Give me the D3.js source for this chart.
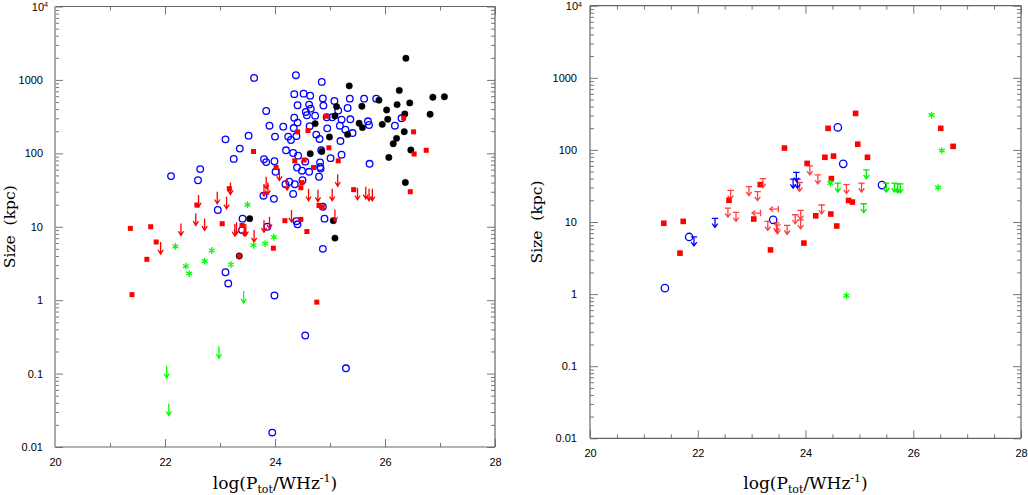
<!DOCTYPE html>
<html><head><meta charset="utf-8">
<script src="https://cdn.jsdelivr.net/npm/d3@7"></script>
<style>body{margin:0;background:#fff}svg{display:block}</style>
</head><body>
<svg id="c" width="1028" height="495"></svg>
<script>
// ---- tick labels ----
const xMajor = [20, 22, 24, 26, 28];
const yMajor = [0.01, 0.1, 1, 10, 100, 1000, 10000];
const yLabels = ["0.01", "0.1", "1", "10", "100", "1000", "10"];

// ---- left panel data: [log P_tot, size kpc] ----
const leftBlue = [[24.38,1160],[23.62,1065],[24.85,940],[24.35,640],[24.52,650],[24.64,610],[24.87,560],[25.08,517],[25.36,556],[25.62,556],[25.84,556],[24.41,452],[24.62,461],[24.88,447],[24.65,406],[25.32,415],[25.15,382],[23.84,378],[24.56,366],[24.58,330],[24.73,326],[25.04,310],[24.94,310],[24.35,306],[25.21,288],[25.37,291],[26.30,300],[24.41,262],[25.69,273],[25.71,243],[26.18,238],[25.18,238],[23.90,238],[24.15,231],[24.63,234],[24.34,221],[24.95,219],[25.28,210],[25.41,189],[24.75,180],[23.52,174],[24.39,172],[24.00,169],[24.24,169],[24.81,157],[24.29,152],[23.10,155],[25.19,147],[23.36,116],[24.20,110],[24.84,110],[24.33,101],[24.42,93],[25.21,96],[25.01,86],[23.25,84],[23.80,83],[23.84,76],[23.99,78],[24.55,77],[24.82,75],[25.72,72],[24.82,65],[24.40,64],[24.83,62],[22.64,61],[22.11,49],[24.49,58],[24.62,56],[24.01,56],[24.80,48],[22.60,43],[24.50,43],[24.26,41],[24.19,38],[24.36,38],[24.33,28],[23.79,26.5],[23.98,24],[22.96,16.9],[24.87,18.7],[23.41,12.9],[24.90,12.9],[24.39,11.9],[24.41,10.8],[23.86,10],[23.40,9],[24.87,5.0],[23.10,2.4],[23.15,1.69],[23.99,1.16],[24.55,0.33],[25.29,0.118],[23.95,0.0157]];
const leftBlack = [[26.38,1970],[25.35,830],[26.26,720],[26.87,580],[27.08,590],[25.89,530],[26.45,486],[26.22,461],[25.58,437],[25.12,433],[26.03,390],[26.36,344],[26.82,340],[25.09,323],[26.05,291],[24.73,254],[25.53,257],[25.95,248],[25.59,224],[26.35,197],[25.32,181],[24.99,167],[26.21,160],[26.15,135],[24.85,106],[24.64,99],[26.47,111],[26.07,88],[26.37,40],[23.54,12.9],[25.06,12.1],[25.09,7.0],[23.35,4.0]];
const leftRed = [[24.93,320],[26.34,303],[24.60,204],[24.41,196],[26.52,196],[24.98,119],[23.61,106],[26.75,110],[26.53,98],[24.36,79],[24.53,81],[25.15,79],[24.02,64],[24.70,64],[24.49,40],[24.47,34],[23.17,33],[25.43,32],[26.46,30],[22.58,19.7],[24.80,19.5],[24.86,18.5],[24.18,12.1],[24.47,12.6],[23.04,11],[21.37,9.5],[21.74,10],[23.40,10.4],[24.58,8.6],[21.84,6.2],[23.97,5.1],[21.67,3.6],[23.35,4.0],[21.40,1.19],[24.76,0.94]];
const leftRedLimits = [[21.92,6.2],[22.29,11.1],[22.56,15.2],[22.61,27],[22.72,13],[22.95,30],[23.12,25.6],[23.19,40],[23.27,10.9],[23.30,11.5],[23.44,10.9],[23.47,11],[23.62,9],[23.80,12.3],[23.90,13.7],[23.80,38],[23.84,48],[23.87,40],[24.08,62],[24.22,46],[24.61,33],[24.78,32],[25.04,33],[25.14,52],[25.50,34],[25.65,35],[25.71,33],[25.77,33],[24.30,16.9],[25.09,17.2]];
const leftGreen = [[23.50,20],[22.19,5.4],[22.85,4.75],[22.38,2.9],[22.44,2.3],[22.72,3.4],[23.20,3.06],[23.61,5.6],[23.82,5.9],[23.98,7.2]];
const leftGreenLimits = [[23.43,1.33],[22.98,0.236],[22.03,0.127],[22.07,0.039]];

// ---- right panel data ----
const rightRed = [[24.93,321],[24.42,199],[26.51,199],[23.61,106],[26.74,112],[24.97,120],[24.36,79],[24.52,82],[25.15,79],[24.03,65],[24.48,40],[23.16,33],[22.58,20],[24.80,19.9],[24.87,18.9],[24.47,12.9],[24.19,12.2],[23.04,11],[21.37,9.6],[21.73,10.2],[24.58,8.8],[23.97,5.1],[23.35,4.1],[21.67,3.7]];
const rightBlue = [[24.60,205],[24.70,64],[25.42,32.5],[23.40,10.7],[21.84,6.2],[21.39,1.21]];
const rightGreen = [[26.34,304],[26.53,98],[26.46,30],[24.46,34.7],[24.76,0.95]];
const rightRedLimits = [[24.08,60],[24.23,45],[24.76,33],[23.21,40],[22.95,31],[23.11,26.3],[22.61,27.4],[22.56,15.6],[22.71,13.6],[23.30,10.2],[23.46,9.7],[23.48,9.15],[23.66,9.0],[23.81,12.6],[23.91,14.5],[23.91,10.7],[24.30,17.2],[25.04,34.7],[23.89,35.3]];
const rightRedLeftLimits = [[23.10,13.3],[23.43,15.1]];
const rightBlueLimits = [[23.83,48.7],[23.77,39.4],[23.85,39.4],[22.32,11.2],[21.93,6.2]];
const rightGreenLimits = [[25.13,53],[24.60,34.7],[25.50,34.7],[25.65,34.7],[25.71,33.8],[25.76,33.8],[25.08,17.9]];

const svg = d3.select('#c');
const SANS = 'Liberation Sans, Arial, Helvetica, sans-serif';
const SERIF = 'DejaVu Serif, serif';

function panel(cfg) {
  const g = svg.append('g');
  const x = d3.scaleLinear().domain([20, 28]).range([cfg.l, cfg.r]);
  const y = d3.scaleLog().domain([0.01, 1e4]).range([cfg.b, cfg.t]);
  const yAll = y.ticks();
  const yMinor = yAll.filter(v => !yMajor.some(m => Math.abs(m - v) / m < 1e-6));
  const xMinor = d3.range(20, 28.0001, cfg.xStep).filter(v => !xMajor.includes(v));

  const style = sel => {
    sel.select('.domain').remove();
    sel.selectAll('line').attr('stroke', '#777').attr('stroke-width', 1);
    sel.attr('font-family', SANS).attr('font-size', 11);
    sel.selectAll('text').attr('fill', '#000');
  };
  // bottom
  g.append('g').attr('transform', `translate(0,${cfg.b})`)
    .call(d3.axisBottom(x).tickValues(xMajor).tickSize(-8).tickPadding(11).tickFormat(d3.format('d'))).call(style);
  g.append('g').attr('transform', `translate(0,${cfg.b})`)
    .call(d3.axisBottom(x).tickValues(xMinor).tickSize(-4).tickFormat('')).call(style);
  // top
  g.append('g').attr('transform', `translate(0,${cfg.t})`)
    .call(d3.axisTop(x).tickValues(xMajor).tickSize(-8).tickFormat('')).call(style);
  g.append('g').attr('transform', `translate(0,${cfg.t})`)
    .call(d3.axisTop(x).tickValues(xMinor).tickSize(-4).tickFormat('')).call(style);
  // left
  const la = g.append('g').attr('transform', `translate(${cfg.l},0)`)
    .call(d3.axisLeft(y).tickValues(yMajor).tickSize(-8).tickPadding(cfg.yPad).tickFormat((d, i) => yLabels[i])).call(style);
  la.selectAll('.tick text').filter(d => d === 10000).each(function() {
    const t = d3.select(this);
    t.attr('x', -cfg.yPad + 5);
    t.append('tspan').attr('dy', '-0.45em').attr('font-size', 7).text('4');
  });
  g.append('g').attr('transform', `translate(${cfg.l},0)`)
    .call(d3.axisLeft(y).tickValues(yMinor).tickSize(-4).tickFormat('')).call(style);
  // right
  g.append('g').attr('transform', `translate(${cfg.r},0)`)
    .call(d3.axisRight(y).tickValues(yMajor).tickSize(-8).tickFormat('')).call(style);
  g.append('g').attr('transform', `translate(${cfg.r},0)`)
    .call(d3.axisRight(y).tickValues(yMinor).tickSize(-4).tickFormat('')).call(style);

  // frame
  g.append('line').attr('x1', cfg.l).attr('x2', cfg.r).attr('y1', cfg.b).attr('y2', cfg.b).attr('stroke', '#666').attr('stroke-width', 1.2);
  g.append('line').attr('x1', cfg.l).attr('x2', cfg.r).attr('y1', cfg.t).attr('y2', cfg.t).attr('stroke', '#666').attr('stroke-width', 1.2);
  g.append('line').attr('x1', cfg.l).attr('x2', cfg.l).attr('y1', cfg.t).attr('y2', cfg.b).attr('stroke', cfg.leftSpine).attr('stroke-width', cfg.leftSpineW);
  g.append('line').attr('x1', cfg.r).attr('x2', cfg.r).attr('y1', cfg.t).attr('y2', cfg.b).attr('stroke', '#666').attr('stroke-width', 1.2);

  // titles
  const cx = (cfg.l + cfg.r) / 2, cy = (cfg.t + cfg.b) / 2;
  const xt = g.append('text').attr('x', cx).attr('y', 489).attr('text-anchor', 'middle')
    .attr('font-family', SERIF).attr('font-size', 17).attr('fill', '#000');
  xt.append('tspan').text('log(P');
  xt.append('tspan').attr('font-size', 11).attr('dy', 4).text('tot');
  xt.append('tspan').attr('dy', -4).text('/WHz');
  xt.append('tspan').attr('font-size', 11).attr('dy', -7).text('-1');
  xt.append('tspan').attr('dy', 7).text(')');
  g.append('text').attr('transform', `translate(${cfg.yTitleX},${cy}) rotate(-90)`)
    .attr('text-anchor', 'middle').attr('font-family', SERIF).attr('font-size', 15.5).attr('fill', '#000')
    .attr('xml:space', 'preserve').style('white-space', 'pre').text('Size  (kpc)');

  return {g, x, y};
}

function circles(p, data, r, color, filled) {
  p.g.append('g').selectAll('circle').data(data).join('circle')
    .attr('cx', d => p.x(d[0])).attr('cy', d => p.y(d[1])).attr('r', r)
    .attr('fill', filled ? color : 'none').attr('stroke', color).attr('stroke-width', filled ? 0.5 : 1.3);
}
function squares(p, data, s, color) {
  p.g.append('g').selectAll('rect').data(data).join('rect')
    .attr('x', d => p.x(d[0]) - s / 2).attr('y', d => p.y(d[1]) - s / 2)
    .attr('width', s).attr('height', s).attr('fill', color);
}
function stars(p, data, size, color) {
  const sym = d3.symbol().type(d3.symbolAsterisk).size(size);
  p.g.append('g').selectAll('path').data(data).join('path')
    .attr('transform', d => `translate(${p.x(d[0])},${p.y(d[1])})`)
    .attr('d', sym).attr('fill', 'none').attr('stroke', color).attr('stroke-width', 1.3);
}
function downArrows(p, data, color, len) {
  p.g.append('g').selectAll('path').data(data).join('path')
    .attr('d', d => {
      const px = p.x(d[0]), py = p.y(d[1]);
      return `M${px},${py}V${py + len}M${px - 2.6},${py + len - 4.2}L${px},${py + len}L${px + 2.6},${py + len - 4.2}`;
    })
    .attr('fill', 'none').attr('stroke', color).attr('stroke-width', 1.3);
}
function capArrows(p, data, color, opacity) {
  p.g.append('g').selectAll('path').data(data).join('path')
    .attr('d', d => {
      const px = p.x(d[0]), py = p.y(d[1]);
      return `M${px - 3.2},${py}H${px + 3.2}M${px},${py}V${py + 9}M${px - 2.8},${py + 5.2}L${px},${py + 9}L${px + 2.8},${py + 5.2}`;
    })
    .attr('fill', 'none').attr('stroke', color).attr('stroke-width', 1.3).attr('opacity', opacity);
}
function leftArrows(p, data, color, opacity) {
  p.g.append('g').selectAll('path').data(data).join('path')
    .attr('d', d => {
      const px = p.x(d[0]), py = p.y(d[1]);
      return `M${px + 3.5},${py - 3.2}V${py + 3.2}M${px + 3.5},${py}H${px - 5}M${px - 1.6},${py - 2.6}L${px - 5},${py}L${px - 1.6},${py + 2.6}`;
    })
    .attr('fill', 'none').attr('stroke', color).attr('stroke-width', 1.3).attr('opacity', opacity);
}

// ---- left panel ----
const L = panel({l: 55, r: 495, t: 6.5, b: 447, xStep: 1, yPad: 12, yTitleX: 15, leftSpine: '#aaa', leftSpineW: 2});
circles(L, leftBlue, 3.3, '#0000ff', false);
circles(L, leftBlack, 3.2, '#000000', true);
squares(L, leftRed, 5, '#ff0000');
downArrows(L, leftRedLimits, '#ff0000', 12);
downArrows(L, leftGreenLimits, '#00ff00', 12);
stars(L, leftGreen, 32, '#00ff00');

// ---- right panel ----
const R = panel({l: 590, r: 1021, t: 5.7, b: 438.3, xStep: 0.5, yPad: 13, yTitleX: 542, leftSpine: '#666', leftSpineW: 1.2});
squares(R, rightRed, 5.6, '#ff0000');
circles(R, rightBlue, 3.7, '#0000ff', false);
capArrows(R, rightRedLimits, '#ff2020', 0.85);
leftArrows(R, rightRedLeftLimits, '#ff2020', 0.85);
capArrows(R, rightBlueLimits, '#0000ff', 1);
capArrows(R, rightGreenLimits, '#00ee00', 1);
stars(R, rightGreen, 32, '#00ff00');
</script>
</body></html>
